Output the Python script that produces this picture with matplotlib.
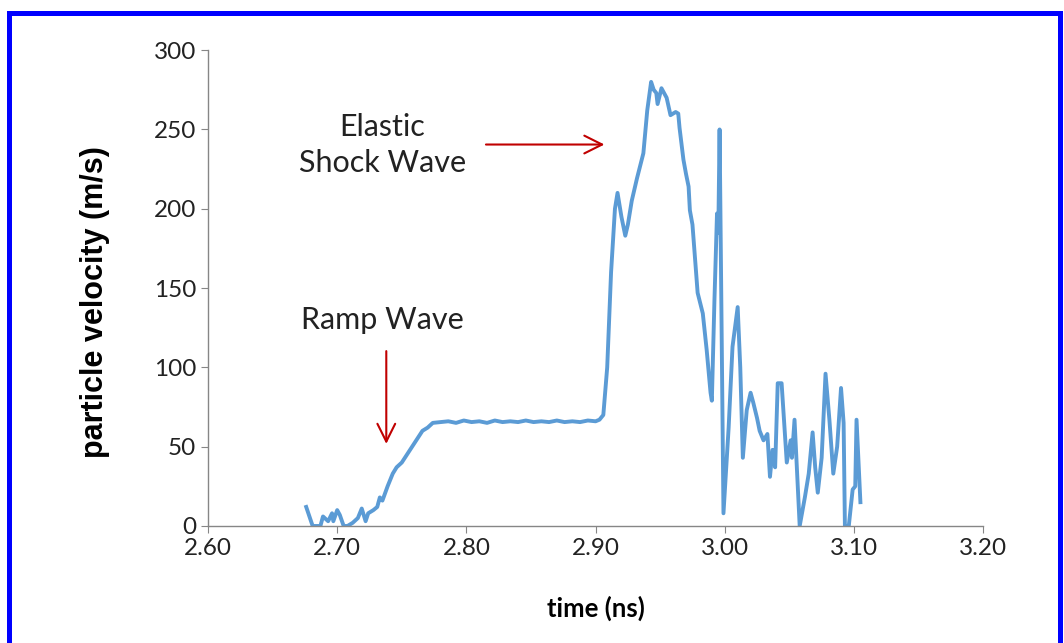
"""
Particle velocity trace: ramp wave then elastic shock wave.
"""

import matplotlib

matplotlib.use("Agg")
import matplotlib.pyplot as plt
from matplotlib.lines import Line2D

plt.rcParams["font.family"] = ["Lato", "DejaVu Sans"]

# ── data ────────────────────────────────────────────────────────────────────

time_ns = [
    2.676, 2.681, 2.687, 2.689, 2.693, 2.696, 2.697, 2.700, 2.702, 2.705,
    2.708, 2.712, 2.716, 2.719, 2.722, 2.724, 2.728, 2.731, 2.733, 2.735,
    2.739, 2.741, 2.743, 2.746, 2.750, 2.754, 2.758, 2.762, 2.766, 2.770,
    2.774, 2.780, 2.786, 2.792, 2.798, 2.804, 2.810, 2.816, 2.822, 2.828,
    2.834, 2.840, 2.846, 2.852, 2.858, 2.864, 2.870, 2.876, 2.882, 2.888,
    2.894, 2.900, 2.903, 2.906, 2.909, 2.912, 2.915, 2.917, 2.920, 2.923,
    2.925, 2.928, 2.932, 2.937, 2.940, 2.943, 2.945, 2.947, 2.948, 2.951,
    2.955, 2.958, 2.962, 2.964, 2.965, 2.968, 2.970, 2.972, 2.973, 2.975,
    2.979, 2.983, 2.986, 2.989, 2.990, 2.992, 2.994, 2.995, 2.996, 2.999,
    3.003, 3.006, 3.010, 3.012, 3.014, 3.017, 3.020, 3.022, 3.025, 3.027,
    3.030, 3.033, 3.035, 3.037, 3.039, 3.041, 3.044, 3.048, 3.051, 3.052,
    3.054, 3.058, 3.062, 3.065, 3.068, 3.070, 3.072, 3.075, 3.078, 3.081,
    3.084, 3.087, 3.090, 3.092, 3.093, 3.096, 3.099, 3.101, 3.102, 3.105,
]

velocity = [
    12, 0, 0, 6, 3, 8, 3, 10, 7, 0,
    0, 2, 5, 11, 3, 8, 10, 12, 18, 16,
    25, 29, 33, 37, 40, 45, 50, 55, 60, 62,
    65, 65.5, 66, 65, 66.5, 65.5, 66, 65, 66.5, 65.5,
    66, 65.5, 66.5, 65.5, 66, 65.5, 66.5, 65.5, 66, 65.5,
    66.5, 66, 67, 70, 100, 160, 200, 210, 195, 183,
    190, 205, 219, 235, 262, 280, 275, 273, 266, 276,
    270, 259, 261, 260, 251, 231, 222, 214, 199, 190,
    147, 134, 111, 84, 79, 142, 197, 185, 250, 8,
    62, 113, 138, 100, 43, 73, 84, 78, 68, 60,
    54, 58, 31, 48, 37, 90, 90, 40, 54, 43,
    67, 0, 18, 33, 59, 37, 21, 43, 96, 67,
    33, 50, 87, 65, 0, 0, 23, 25, 67, 15,
]

x_ticks = [2.60, 2.70, 2.80, 2.90, 3.00, 3.10, 3.20]
y_ticks = [0, 50, 100, 150, 200, 250, 300]

LINE_COLOR = "#5B9BD5"
ARROW_COLOR = "#C00000"
AXIS_GRAY = "#868686"
TEXT_COLOR = "#222222"

# ── figure ──────────────────────────────────────────────────────────────────

fig = plt.figure(figsize=(10.64, 6.43), dpi=100)
ax = fig.add_axes([0.1955, 0.182, 0.7285, 0.740])

ax.plot(time_ns, velocity, color=LINE_COLOR, lw=2.8, solid_joinstyle="round")

ax.set_xlim(2.60, 3.20)
ax.set_ylim(0, 300)
ax.set_xticks(x_ticks)
ax.set_xticklabels([f"{t:.2f}" for t in x_ticks])
ax.set_yticks(y_ticks)

for side in ("top", "right"):
    ax.spines[side].set_visible(False)
for side in ("left", "bottom"):
    ax.spines[side].set_color(AXIS_GRAY)
    ax.spines[side].set_linewidth(1.0)
ax.tick_params(colors=AXIS_GRAY, labelcolor=TEXT_COLOR, labelsize=17.5,
               length=5, direction="out")

ax.set_xlabel("time (ns)", fontsize=18.5, fontweight="bold")
ax.xaxis.set_label_coords(0.5, -0.147)
ax.set_ylabel("particle velocity (m/s)", fontsize=22, fontweight="bold",
              family="Liberation Sans")
ax.yaxis.set_label_coords(-0.127, 0.47)

# annotations
ax.text(2.735, 240, "Elastic\nShock Wave", ha="center", va="center",
        fontsize=22, linespacing=1.35, color=TEXT_COLOR)
ax.annotate("", xy=(2.909, 240.5), xytext=(2.813, 240.5),
            arrowprops=dict(arrowstyle="->", color=ARROW_COLOR, lw=1.5,
                            mutation_scale=32))
ax.text(2.735, 130, "Ramp Wave", ha="center", va="center",
        fontsize=22, color=TEXT_COLOR)
ax.annotate("", xy=(2.738, 50), xytext=(2.738, 112),
            arrowprops=dict(arrowstyle="->", color=ARROW_COLOR, lw=1.5,
                            mutation_scale=32))

# blue frame around the picture (bottom edge cropped off)
frame_kw = dict(color="#0000FF", lw=3.6, transform=fig.transFigure,
                solid_capstyle="projecting")
fig.add_artist(Line2D([0.0081, 0.0081], [-0.01, 0.9805], **frame_kw))
fig.add_artist(Line2D([0.0081, 0.9962], [0.9805, 0.9805], **frame_kw))
fig.add_artist(Line2D([0.9962, 0.9962], [-0.01, 0.9805], **frame_kw))

fig.savefig("out.png", dpi=100)
plt.close(fig)
